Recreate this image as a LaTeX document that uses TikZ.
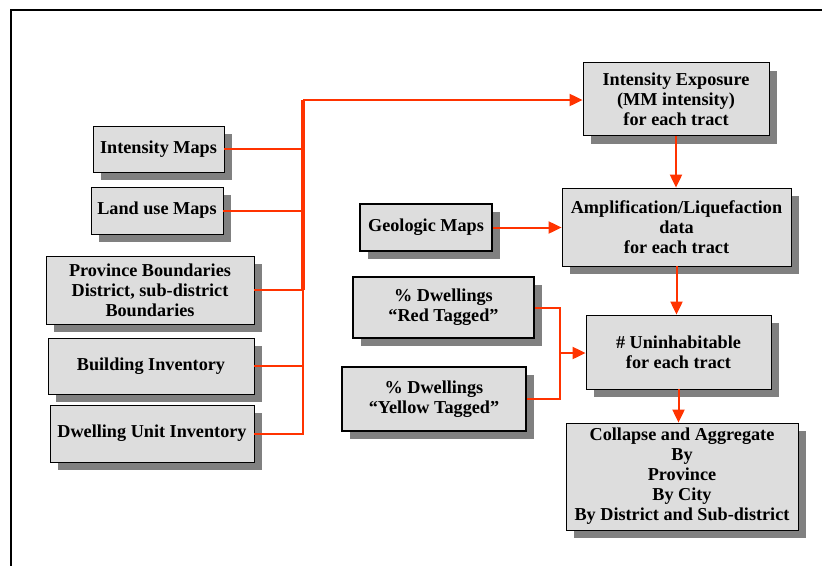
\documentclass[tikz,border=0pt]{standalone}
\usepackage{fontspec}
\setmainfont{Liberation Serif}
\usepackage{tikz}
\usetikzlibrary{shapes.geometric,arrows.meta,shadows,positioning}
\usepackage{xcolor}
\definecolor{boxgray}{HTML}{DDDDDD}
\definecolor{linkred}{HTML}{FF3300}

\begin{document}
\begin{tikzpicture} [
      x = 1pt, y = -1pt,
      every node/.style = { draw, thick, fill = boxgray, align = center, inner sep = 0,
                            font = \fontsize{18.2}{20}\selectfont\bfseries,
                            drop shadow={shadow xshift=8pt,shadow yshift=-8pt,fill=black!50,opacity=1} },
      source/.style = { line width = 1.8pt },
      link/.style = { draw = linkred, line width = 2pt },
      feed/.style = { link, -{Triangle[length=13pt, width=12pt]} }
      ]

      \useasboundingbox (0,0) rectangle (822,566);
      \draw [line width = 1.6pt] (822,10) -- (11,10) -- (11,566);

      % inputs on the left
      \node (imaps) [minimum width = 131, minimum height = 46] at (158.5,149) {Intensity Maps};
      \node (lmaps) [minimum width = 132, minimum height = 47] at (157,210.5) {Land use Maps};
      \node (pbound) [minimum width = 208, minimum height = 68] at (150,290) {Province Boundaries\\District, sub-district\\Boundaries};
      \node (binv) [minimum width = 206, minimum height = 56] at (151,366) {Building Inventory};
      \node (dinv) [minimum width = 204, minimum height = 57] at (152,433.5) {Dwelling Unit Inventory};

      % middle inputs
      \node (geo) [source, minimum width = 132, minimum height = 47] at (426,227.5) {Geologic Maps};
      \node (red) [source, minimum width = 181, minimum height = 61] at (443.5,307.5) {\% Dwellings\\``Red Tagged''};
      \node (yellow) [source, minimum width = 184, minimum height = 64] at (434,399) {\% Dwellings\\``Yellow Tagged''};

      % processing chain
      \node (iexp) [minimum width = 186, minimum height = 73] at (676,99) {Intensity Exposure\\(MM intensity)\\for each tract};
      \node (ampl) [minimum width = 229, minimum height = 78] at (676.5,227) {Amplification/Liquefaction\\data\\for each tract};
      \node (unin) [minimum width = 185, minimum height = 74] at (678.5,352) {\# Uninhabitable\\for each tract};
      \node (coll) [minimum width = 232, minimum height = 107] at (682,476.5) {Collapse and Aggregate\\By\\Province\\By City\\By District and Sub-district};

      % collecting bus
      \coordinate (bustop) at (303,100);
      \coordinate (join) at (560,353);

      \draw [link] (imaps.east) -- (imaps.east -| bustop);
      \draw [link] (lmaps.east) -- (lmaps.east -| bustop);
      \draw [link] (pbound.east) -- (pbound.east -| bustop);
      \draw [link] (binv.east) -- (binv.east -| bustop);
      \draw [link] (dinv.east) -- (dinv.east -| bustop) -- (pbound.east -| bustop);
      \draw [link, line width = 3.5pt] (pbound.east -| bustop) -- (bustop);
      \draw [feed] (bustop) -- (iexp.west |- bustop);

      \draw [feed] (iexp.south) -- (iexp.south |- ampl.north);
      \draw [feed] (geo.east) -- (geo.east -| ampl.west);
      \draw [feed] (ampl.south) -- (ampl.south |- unin.north);
      \draw [feed] (unin.south) -- (unin.south |- coll.north);

      \draw [link] (red.east) -- (red.east -| join) -- (yellow.east -| join) -- (yellow.east);
      \draw [feed] (join) -- (join -| unin.west);
    \end{tikzpicture}
\end{document}
